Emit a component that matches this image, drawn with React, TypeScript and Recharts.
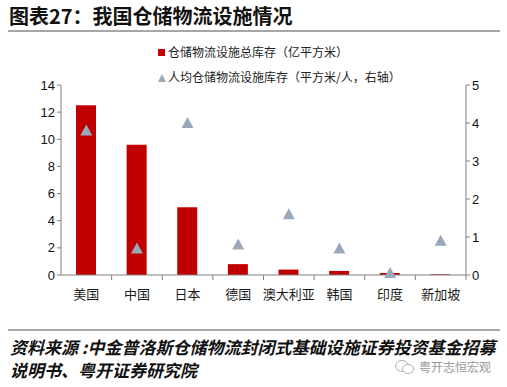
import React from "react";
import { ComposedChart, Bar, Scatter, XAxis, YAxis } from "recharts";

const categories = ["美国", "中国", "日本", "德国", "澳大利亚", "韩国", "印度", "新加坡"];
const totalStock = [12.5, 9.6, 5.0, 0.8, 0.4, 0.3, 0.15, 0.05];
const perCapita = [3.8, 0.7, 4.0, 0.8, 1.6, 0.7, 0.05, 0.9];
const leftTicks = [0, 2, 4, 6, 8, 10, 12, 14];
const rightTicks = [0, 1, 2, 3, 4, 5];

const data = categories.map((c, i) => ({ name: c, total: totalStock[i], per: perCapita[i] }));

const BAND = 405 / categories.length;

const XTick = (props: any) => {
  const { x, y, payload } = props;
  return (
    <g>
      <line x1={x + BAND / 2} x2={x + BAND / 2} y1={y - 8} y2={y - 3} stroke="#808080" strokeWidth={1} />
      <text x={x} y={y + 16} textAnchor="middle" fontSize={13} fill="#1a1a1a" fontFamily="'Noto Sans CJK SC', sans-serif">
        {payload.value}
      </text>
    </g>
  );
};

const Triangle = (props: any) => {
  const { cx, cy } = props;
  if (cx == null || cy == null) return null;
  return <polygon points={`${cx},${cy - 6} ${cx - 6},${cy + 5} ${cx + 6},${cy + 5}`} fill="#9aa9ba" />;
};

export default function App() {
  return (
    <div style={{ position: "absolute", left: 0, top: 0, width: 507, height: 387, background: "#fff", fontFamily: "'Noto Sans CJK SC', sans-serif" }}>
      <div style={{ position: "absolute", left: 9, top: 3, fontSize: 20, fontWeight: 700, color: "#111", whiteSpace: "nowrap", lineHeight: "26px" }}>
        图表27：我国仓储物流设施情况
      </div>
      <div style={{ position: "absolute", left: 8, top: 30, width: 492, height: 2, background: "#a6a6a6" }} />

      <div style={{ position: "absolute", left: 158, top: 43, fontSize: 12, color: "#222", whiteSpace: "nowrap", lineHeight: "18px" }}>
        <span style={{ display: "inline-block", width: 7, height: 7, background: "#c00000", marginRight: 3, verticalAlign: "1px" }} />
        仓储物流设施总库存（亿平方米）
      </div>
      <div style={{ position: "absolute", left: 158, top: 68, fontSize: 12, color: "#222", whiteSpace: "nowrap", lineHeight: "18px" }}>
        <svg width={8} height={8} style={{ marginRight: 2, verticalAlign: "0px" }}>
          <polygon points="4,0 0,8 8,8" fill="#9aa9ba" />
        </svg>
        人均仓储物流设施库存（平方米/人，右轴）
      </div>

      <div style={{ position: "absolute", left: 0, top: 0 }}>
        <ComposedChart width={507} height={310} data={data} margin={{ top: 85, right: 0, bottom: 5, left: 0 }} barCategoryGap={0}>
          <XAxis
            dataKey="name"
            xAxisId={0}
            height={30}
            stroke="#808080"
            tickLine={false}
            tick={<XTick />}
            interval={0}
          />
          <YAxis
            yAxisId="left"
            orientation="left"
            width={61}
            domain={[0, 14]}
            ticks={leftTicks}
            stroke="#808080"
            tickSize={4}
            tick={{ fill: "#111", fontSize: 13, fontFamily: "'Liberation Sans', Arial, sans-serif" }}
          />
          <YAxis
            yAxisId="right"
            orientation="right"
            width={41}
            domain={[0, 5]}
            ticks={rightTicks}
            stroke="#808080"
            tickSize={4}
            tick={{ fill: "#111", fontSize: 13, fontFamily: "'Liberation Sans', Arial, sans-serif" }}
          />
          <Bar yAxisId="left" dataKey="total" fill="#c00000" barSize={20} isAnimationActive={false} />
          <Scatter yAxisId="right" dataKey="per" shape={<Triangle />} isAnimationActive={false} />
        </ComposedChart>
      </div>

      <div style={{ position: "absolute", left: 8, top: 329, width: 492, height: 2, background: "#a6a6a6" }} />
      <div style={{ position: "absolute", left: 10, top: 335, fontSize: 17, fontWeight: 700, fontStyle: "italic", color: "#111", whiteSpace: "nowrap", lineHeight: "24px" }}>
        资料来源 :中金普洛斯仓储物流封闭式基础设施证券投资基金招募
      </div>
      <div style={{ position: "absolute", left: 10, top: 358, fontSize: 17, fontWeight: 700, fontStyle: "italic", color: "#111", whiteSpace: "nowrap", lineHeight: "24px" }}>
        说明书、粤开证券研究院
      </div>
      <div style={{ position: "absolute", left: 394, top: 358, display: "flex", alignItems: "center", fontSize: 12, color: "#9a9a9a", whiteSpace: "nowrap" }}>
        <svg width={22} height={16} style={{ marginRight: 3 }}>
          <ellipse cx={8} cy={7} rx={6.5} ry={5.5} fill="none" stroke="#b0b0b0" strokeWidth={1} />
          <ellipse cx={14} cy={10} rx={5.5} ry={4.5} fill="#fff" stroke="#b0b0b0" strokeWidth={1} />
        </svg>
        粤开志恒宏观
      </div>
    </div>
  );
}
